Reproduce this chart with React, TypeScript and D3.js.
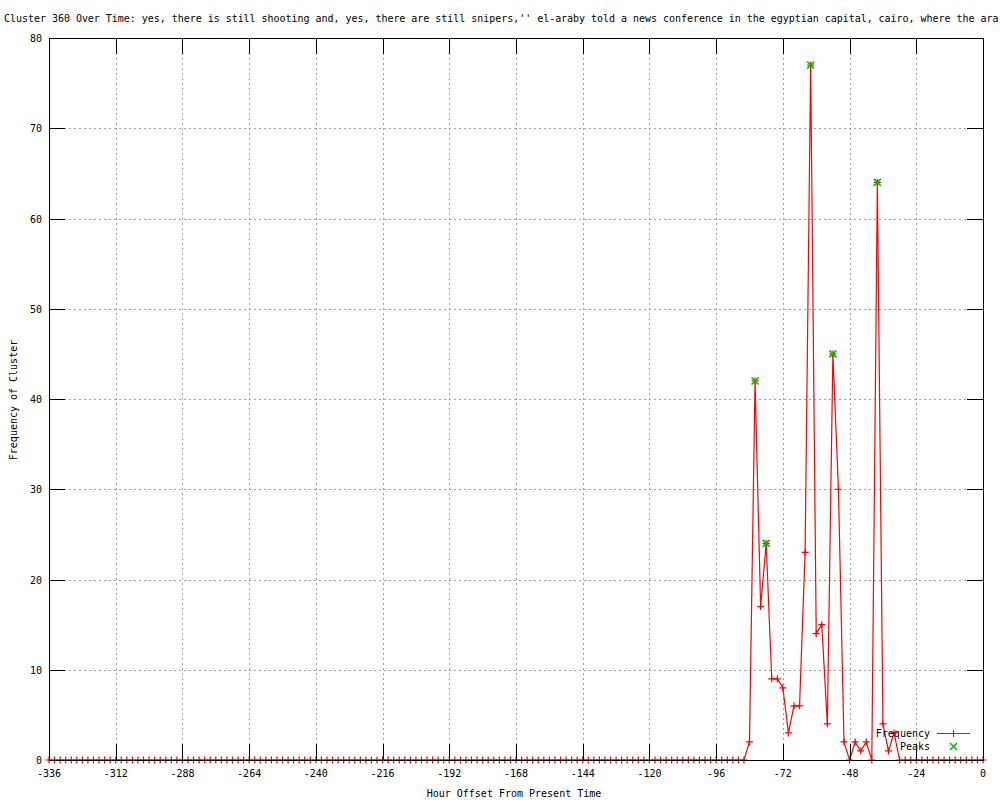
import * as React from 'react';
import * as d3 from 'd3';

// title as far as it can be read in the picture (it runs off the right edge there)
const titleText =
	"Cluster 360 Over Time: yes, there is still shooting and, yes, there are still snipers,'' el-araby told a news conference in the egyptian capital, cairo, where the ara";

// one reading every 2 hours, from -336 to 0
const firstHour = -336;
const hourStep = 2;
const frequency: number[] = [
	0, 0, 0, 0, 0, 0, 0, 0, 0, 0, 0, 0, // -336 .. -314
	0, 0, 0, 0, 0, 0, 0, 0, 0, 0, 0, 0, // -312 .. -290
	0, 0, 0, 0, 0, 0, 0, 0, 0, 0, 0, 0, // -288 .. -266
	0, 0, 0, 0, 0, 0, 0, 0, 0, 0, 0, 0, // -264 .. -242
	0, 0, 0, 0, 0, 0, 0, 0, 0, 0, 0, 0, // -240 .. -218
	0, 0, 0, 0, 0, 0, 0, 0, 0, 0, 0, 0, // -216 .. -194
	0, 0, 0, 0, 0, 0, 0, 0, 0, 0, 0, 0, // -192 .. -170
	0, 0, 0, 0, 0, 0, 0, 0, 0, 0, 0, 0, // -168 .. -146
	0, 0, 0, 0, 0, 0, 0, 0, 0, 0, 0, 0, // -144 .. -122
	0, 0, 0, 0, 0, 0, 0, 0, 0, 0, 0, 0, // -120 .. -98
	0, 0, 0, 0, 0, 0, 2, 42, 17, 24, 9, 9, // -96 .. -74
	8, 3, 6, 6, 23, 77, 14, 15, 4, 45, 30, 2, // -72 .. -50
	0, 2, 1, 2, 0, 64, 4, 1, 3, 0, 0, 0, // -48 .. -26
	0, 0, 0, 0, 0, 0, 0, 0, 0, 0, 0, 0, // -24 .. -2
	0 // 0
];

const peakHours: number[] = [-82, -78, -62, -54, -38];
const peakCounts: number[] = [42, 24, 77, 45, 64];

const xTicks: number[] = [-336, -312, -288, -264, -240, -216, -192, -168, -144, -120, -96, -72, -48, -24, 0];
const yTicks: number[] = [0, 10, 20, 30, 40, 50, 60, 70, 80];

const FONT = '"DejaVu Sans Mono", "Liberation Mono", monospace';
const GREEN = '#00c000';

class ClusterChart extends React.Component {
	private svgRef = React.createRef<SVGSVGElement>();

	public render() {
		return (
			<svg
				ref={this.svgRef}
				width={1000}
				height={800}
				viewBox="0 0 1000 800"
				style={{ position: 'absolute', left: 0, top: 0, background: '#fff' }}
			/>
		);
	}

	public componentDidMount() {
		const svg = d3.select(this.svgRef.current);
		svg.selectAll('*').remove();

		const left = 49;
		const right = 983;
		const top = 38;
		const bottom = 760;

		const x = d3.scaleLinear().domain([-336, 0]).range([left, right]);
		const y = d3.scaleLinear().domain([0, 80]).range([bottom, top]);

		const points = frequency.map((v, i) => ({ hour: firstHour + i * hourStep, count: v }));
		const peaks = peakHours.map((h, i) => ({ hour: h, count: peakCounts[i] }));

		// title
		svg.append('text')
			.attr('x', 4)
			.attr('y', 22)
			.attr('font-family', FONT)
			.attr('font-size', 10)
			.attr('letter-spacing', -0.03)
			.attr('fill', '#000')
			.text(titleText);

		// grid
		const grid = svg.append('g')
			.attr('stroke', '#a0a0a0')
			.attr('stroke-width', 1)
			.attr('stroke-dasharray', '2,3')
			.attr('shape-rendering', 'crispEdges');
		grid.selectAll('line.gx')
			.data(xTicks.slice(1, -1))
			.enter()
			.append('line')
			.attr('x1', (d) => Math.round(x(d)) + 0.5)
			.attr('x2', (d) => Math.round(x(d)) + 0.5)
			.attr('y1', top)
			.attr('y2', bottom);
		grid.selectAll('line.gy')
			.data(yTicks.slice(1, -1))
			.enter()
			.append('line')
			.attr('x1', left)
			.attr('x2', right)
			.attr('y1', (d) => Math.round(y(d)) + 0.5)
			.attr('y2', (d) => Math.round(y(d)) + 0.5);

		// Frequency line
		const valueline = d3
			.line<{ hour: number; count: number }>()
			.x((d) => x(d.hour))
			.y((d) => y(d.count));

		svg.append('path')
			.datum(points)
			.attr('fill', 'none')
			.attr('stroke', '#ff0000')
			.attr('stroke-width', 1.2)
			.attr('d', valueline);

		const plus = 'M-3.5,0H3.5M0,-3.5V3.5';
		const cross = 'M-3.5,-3.5L3.5,3.5M-3.5,3.5L3.5,-3.5';

		svg.append('g')
			.selectAll('path')
			.data(points)
			.enter()
			.append('path')
			.attr('transform', (d) => `translate(${x(d.hour)},${y(d.count)})`)
			.attr('d', plus)
			.attr('stroke', '#ff0000')
			.attr('stroke-width', 1.2)
			.attr('fill', 'none');

		// border + ticks
		const axes = svg.append('g')
			.attr('stroke', '#000')
			.attr('stroke-width', 1)
			.attr('shape-rendering', 'crispEdges');
		axes.append('rect')
			.attr('x', left + 0.5)
			.attr('y', top + 0.5)
			.attr('width', right - left)
			.attr('height', bottom - top)
			.attr('fill', 'none');

		const tickLen = 16;
		xTicks.forEach((t) => {
			const px = Math.round(x(t)) + 0.5;
			axes.append('line').attr('x1', px).attr('x2', px).attr('y1', bottom).attr('y2', bottom - tickLen);
			axes.append('line').attr('x1', px).attr('x2', px).attr('y1', top).attr('y2', top + tickLen);
		});
		yTicks.forEach((t) => {
			const py = Math.round(y(t)) + 0.5;
			axes.append('line').attr('x1', left).attr('x2', left + tickLen).attr('y1', py).attr('y2', py);
			axes.append('line').attr('x1', right).attr('x2', right - tickLen).attr('y1', py).attr('y2', py);
		});

		// peaks drawn on top
		svg.append('g')
			.selectAll('path')
			.data(peaks)
			.enter()
			.append('path')
			.attr('transform', (d) => `translate(${x(d.hour)},${y(d.count)})`)
			.attr('d', cross)
			.attr('stroke', GREEN)
			.attr('stroke-width', 1.6)
			.attr('fill', 'none');

		// tick labels
		svg.append('g')
			.selectAll('text')
			.data(xTicks)
			.enter()
			.append('text')
			.attr('x', (d) => x(d))
			.attr('y', 777)
			.attr('text-anchor', 'middle')
			.attr('font-family', FONT)
			.attr('font-size', 10)
			.text((d) => String(d));

		svg.append('g')
			.selectAll('text')
			.data(yTicks)
			.enter()
			.append('text')
			.attr('x', 42)
			.attr('y', (d) => y(d) + 4)
			.attr('text-anchor', 'end')
			.attr('font-family', FONT)
			.attr('font-size', 10)
			.text((d) => String(d));

		// axis titles
		svg.append('text')
			.attr('x', 514)
			.attr('y', 797)
			.attr('text-anchor', 'middle')
			.attr('font-family', FONT)
			.attr('font-size', 10)
			.text('Hour Offset From Present Time');

		svg.append('text')
			.attr('transform', 'translate(17,400) rotate(-90)')
			.attr('text-anchor', 'middle')
			.attr('font-family', FONT)
			.attr('font-size', 10)
			.text('Frequency of Cluster');

		// legend
		const legend = svg.append('g').attr('font-family', FONT).attr('font-size', 10);
		legend.append('text').attr('x', 930).attr('y', 737).attr('text-anchor', 'end').text('Frequency');
		legend.append('line')
			.attr('x1', 937).attr('x2', 970).attr('y1', 733.5).attr('y2', 733.5)
			.attr('stroke', '#ff0000').attr('stroke-width', 1.2);
		legend.append('path')
			.attr('transform', 'translate(953.5,733.5)')
			.attr('d', plus)
			.attr('stroke', '#ff0000').attr('stroke-width', 1.2).attr('fill', 'none');
		legend.append('text').attr('x', 930).attr('y', 750).attr('text-anchor', 'end').text('Peaks');
		legend.append('path')
			.attr('transform', 'translate(953.5,746.5)')
			.attr('d', cross)
			.attr('stroke', GREEN).attr('stroke-width', 1.6).attr('fill', 'none');
	}
}

export default function App() {
	return <ClusterChart />;
}
